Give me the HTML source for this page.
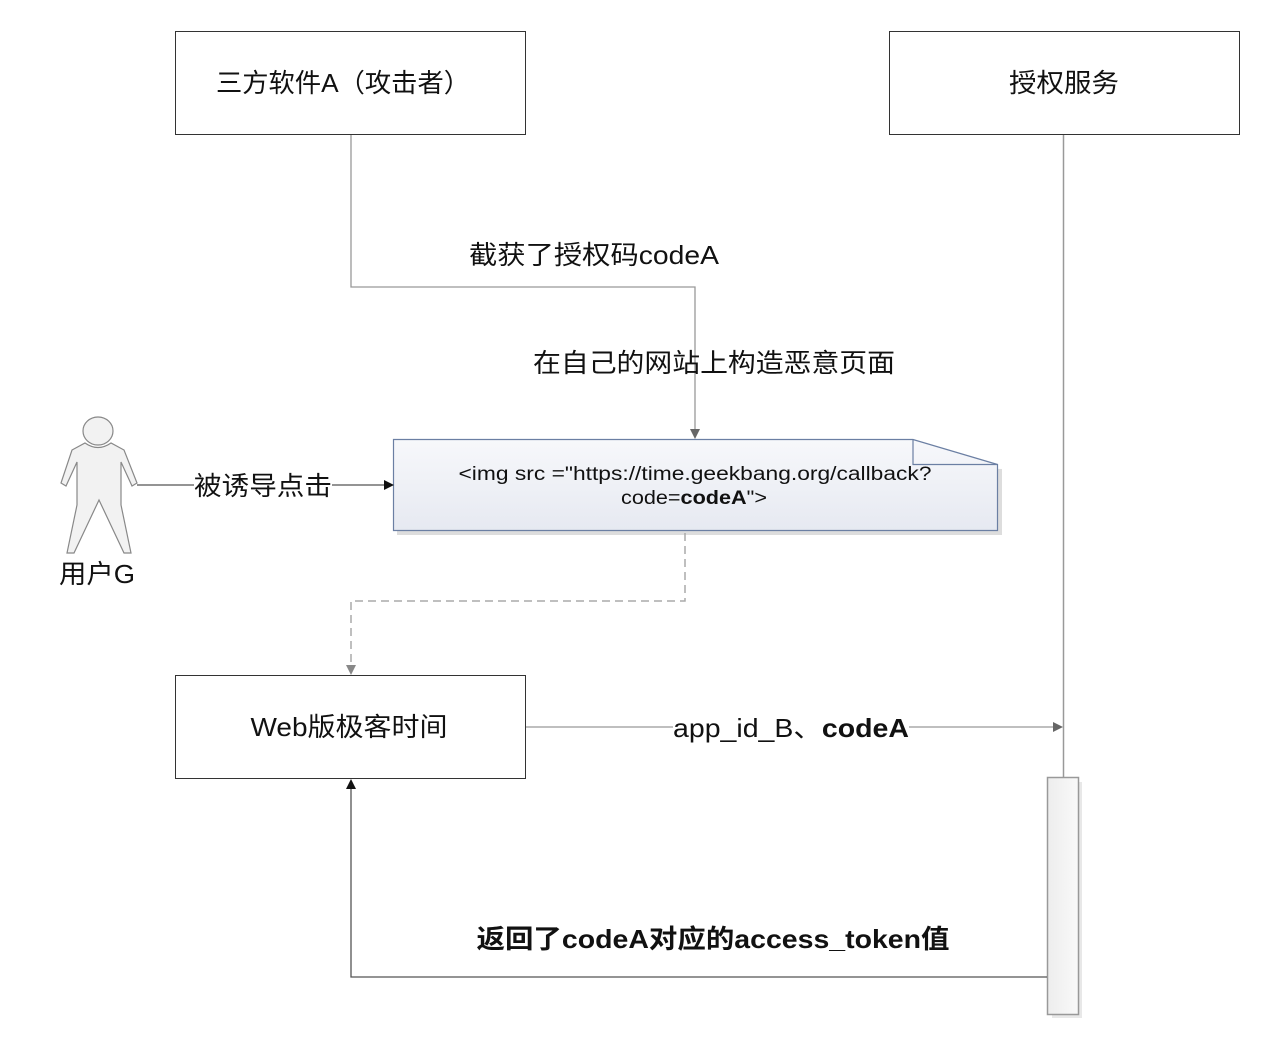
<!DOCTYPE html>
<html><head><meta charset="utf-8"><style>
html,body{margin:0;padding:0;background:#fff;}
svg{display:block;}
text{font-family:"Liberation Sans","Noto Sans CJK SC",sans-serif;fill:#111;}
</style></head><body>
<svg width="1282" height="1052" viewBox="0 0 1282 1052" xmlns="http://www.w3.org/2000/svg">
<defs>
<linearGradient id="ng" x1="0" y1="0" x2="0" y2="1"><stop offset="0" stop-color="#f7f8fb"/><stop offset="1" stop-color="#e6e9f1"/></linearGradient>
<linearGradient id="bg" x1="0" y1="0" x2="1" y2="0"><stop offset="0" stop-color="#ededed"/><stop offset="1" stop-color="#f9f9f9"/></linearGradient>
</defs>
<rect x="175.5" y="31.5" width="350" height="103" fill="#fff" stroke="#333"/>
<text x="343" y="92" font-size="26" text-anchor="middle" textLength="254" lengthAdjust="spacingAndGlyphs">三方软件A（攻击者）</text>
<rect x="889.5" y="31.5" width="350" height="103" fill="#fff" stroke="#333"/>
<text x="1064" y="92" font-size="26" text-anchor="middle" textLength="110" lengthAdjust="spacingAndGlyphs">授权服务</text>
<rect x="175.5" y="675.5" width="350" height="103" fill="#fff" stroke="#333"/>
<text x="349" y="736" font-size="26" text-anchor="middle" textLength="197" lengthAdjust="spacingAndGlyphs">Web版极客时间</text>

<line x1="1063.5" y1="135" x2="1063.5" y2="777" stroke="#999" stroke-width="1.5"/>
<rect x="1052" y="782" width="30" height="236" fill="#e8e8e8"/>
<rect x="1047.5" y="777.5" width="31" height="237" fill="url(#bg)" stroke="#999" stroke-width="1.5"/>

<polyline points="351,135 351,287 695,287 695,430" fill="none" stroke="#999" stroke-width="1.3"/>
<polygon points="690,429 700,429 695,439" fill="#666"/>
<text x="594" y="264" font-size="26" text-anchor="middle" textLength="250" lengthAdjust="spacingAndGlyphs">截获了授权码codeA</text>
<text x="714" y="372" font-size="26" text-anchor="middle" textLength="362" lengthAdjust="spacingAndGlyphs">在自己的网站上构造恶意页面</text>

<polygon points="397,443 1002,469 1002,535 397,535" fill="#ddd"/>
<path d="M393.5 439.5 H913 L997.5 464.5 V530.5 H393.5 Z" fill="url(#ng)" stroke="#6b7fa3" stroke-width="1.2"/>
<path d="M913 439.5 V464.5 H997.5" fill="none" stroke="#6b7fa3" stroke-width="1.2"/>
<text x="695" y="480" font-size="19" text-anchor="middle" fill="#222" textLength="473" lengthAdjust="spacingAndGlyphs">&lt;img src ="https://time.geekbang.org/callback?</text>
<text x="694" y="504" font-size="19" text-anchor="middle" fill="#222" textLength="146" lengthAdjust="spacingAndGlyphs">code=<tspan font-weight="bold">codeA</tspan>"&gt;</text>

<polyline points="685,533 685,601 351,601 351,666" fill="none" stroke="#aaa" stroke-width="1.5" stroke-dasharray="8,5"/>
<polygon points="346,665 356,665 351,675" fill="#888"/>

<g fill="#f2f2f2" stroke="#888" stroke-width="1.2">
<path d="M85 443 Q98 452 111 443 L124 450 L137 483 L132 486 L121 462 L121 505 L131 553 L124 553 L99 500 L74 553 L67 553 L77 505 L77 462 L66 486 L61 483 L72 450 Z"/>
<ellipse cx="98" cy="431" rx="15" ry="14"/>
</g>
<text x="97" y="583" font-size="26" text-anchor="middle" textLength="76" lengthAdjust="spacingAndGlyphs">用户G</text>
<line x1="137" y1="485" x2="386" y2="485" stroke="#555" stroke-width="1.3"/>
<polygon points="384,480 394,485 384,490" fill="#111"/>
<rect x="194" y="470" width="138" height="30" fill="#fff"/>
<text x="263" y="495" font-size="26" text-anchor="middle" textLength="138" lengthAdjust="spacingAndGlyphs">被诱导点击</text>

<line x1="526" y1="727" x2="1055" y2="727" stroke="#999" stroke-width="1.3"/>
<polygon points="1053,722 1063,727 1053,732" fill="#666"/>
<rect x="673" y="712" width="236" height="30" fill="#fff"/>
<text x="791" y="737" font-size="26" text-anchor="middle" textLength="236" lengthAdjust="spacingAndGlyphs">app_id_B、<tspan font-weight="bold">codeA</tspan></text>

<polyline points="1047,977 351,977 351,788" fill="none" stroke="#555" stroke-width="1.3"/>
<polygon points="346,789 356,789 351,779" fill="#111"/>
<text x="713" y="948" font-size="26" font-weight="bold" text-anchor="middle" textLength="473" lengthAdjust="spacingAndGlyphs">返回了codeA对应的access_token值</text>
</svg>
</body></html>
